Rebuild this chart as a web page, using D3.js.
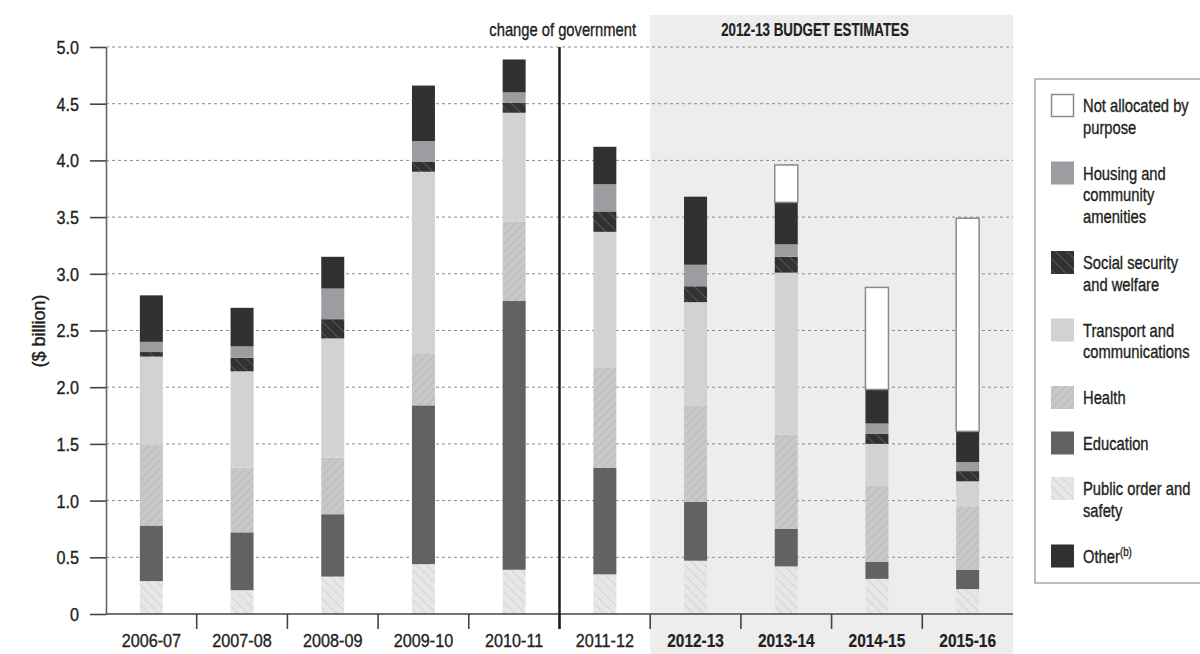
<!DOCTYPE html>
<html>
<head>
<meta charset="utf-8">
<script src="https://cdn.jsdelivr.net/npm/d3@7"></script>
<style>
  body { margin: 0; background: #fff; }
  svg text { font-family: "Liberation Sans", Arial, sans-serif; fill: #231f20; stroke: #231f20; stroke-width: 0.35px; }
  svg text.b { font-weight: bold; stroke-width: 0.2px; }
</style>
</head>
<body>
<svg id="chart" width="1200" height="654"></svg>
<script>
// years and which ones are budget estimates
const years = ["2006-07","2007-08","2008-09","2009-10","2010-11","2011-12","2012-13","2013-14","2014-15","2015-16"];
const estimateYears = ["2012-13","2013-14","2014-15","2015-16"];

// $ billion by purpose
const publicOrder    = [0.29,0.21,0.33,0.44,0.39,0.35,0.47,0.42,0.31,0.22];
const education      = [0.49,0.51,0.55,1.40,2.37,0.94,0.52,0.33,0.15,0.17];
const health         = [0.71,0.57,0.50,0.46,0.70,0.88,0.85,0.83,0.67,0.56];
const transport      = [0.78,0.85,1.05,1.60,0.96,1.20,0.91,1.43,0.37,0.22];
const socialSecurity = [0.04,0.12,0.17,0.09,0.09,0.18,0.14,0.14,0.09,0.09];
const housing        = [0.09,0.10,0.27,0.18,0.09,0.24,0.19,0.11,0.09,0.08];
const other          = [0.41,0.34,0.28,0.49,0.29,0.33,0.60,0.37,0.30,0.27];
const notAllocated   = [0,0,0,0,0,0,0,0.33,0.90,1.88];

const yTicks = [0,0.5,1,1.5,2,2.5,3,3.5,4,4.5,5];

// series bottom -> top
const series = [
  {key:"publicOrder", values:publicOrder, fill:"url(#pPublic)"},
  {key:"education", values:education, fill:"#626263"},
  {key:"health", values:health, fill:"url(#pHealth)"},
  {key:"transport", values:transport, fill:"#d1d2d4"},
  {key:"social", values:socialSecurity, fill:"url(#pSocial)"},
  {key:"housing", values:housing, fill:"#9c9da0"},
  {key:"other", values:other, fill:"#323132"},
  {key:"notAllocated", values:notAllocated, fill:"#ffffff"}
];

// legend, top -> bottom
const legendItems = [
  {key:"notAllocated", lines:["Not allocated by","purpose"]},
  {key:"housing", lines:["Housing and","community","amenities"]},
  {key:"social", lines:["Social security","and welfare"]},
  {key:"transport", lines:["Transport and","communications"]},
  {key:"health", lines:["Health"]},
  {key:"education", lines:["Education"]},
  {key:"publicOrder", lines:["Public order and","safety"]},
  {key:"other", lines:["Other"], sup:"(b)"}
];

const table = years.map((yr,i) => {
  const row = {year: yr};
  series.forEach(s => row[s.key] = s.values[i]);
  return row;
});

const svg = d3.select("#chart");
const defs = svg.append("defs");

function hatch(id, bg, line, size, angle, w) {
  const p = defs.append("pattern").attr("id", id)
    .attr("patternUnits","userSpaceOnUse")
    .attr("width", size).attr("height", size)
    .attr("patternTransform", "rotate(" + angle + ")");
  p.append("rect").attr("width", size).attr("height", size).attr("fill", bg);
  p.append("line").attr("x1",0).attr("y1",0).attr("x2",0).attr("y2",size)
    .attr("stroke", line).attr("stroke-width", w);
}
hatch("pPublic", "#e6e7e8", "#bcbdbf", 7, -45, 1);
hatch("pHealth", "#c7c8ca", "#a9aaac", 6, 45, 1);
hatch("pSocial", "#333233", "#7a7a7a", 8, -45, 1);

// narrow text: Arial metrics squeezed horizontally
function label(parent, x, y, str, size, sx, anchor, bold) {
  return parent.append("text")
    .attr("class", bold ? "b" : null)
    .attr("transform", "translate(" + x + "," + y + ") scale(" + sx + ",1)")
    .attr("font-size", size).attr("text-anchor", anchor || "start")
    .text(str);
}

const x = d3.scaleBand().domain(years).range([106,1013]);
const y = d3.scaleLinear().domain([0,5]).range([614,47]);
const barW = 23;

// shaded estimates area
svg.append("rect")
  .attr("x", x(estimateYears[0])).attr("y", 15)
  .attr("width", 1013 - x(estimateYears[0])).attr("height", 654 - 15)
  .attr("fill", "#ededed");

// gridlines
svg.append("g").selectAll("line").data(yTicks.filter(d => d > 0)).join("line")
  .attr("x1", 106).attr("x2", 1013)
  .attr("y1", d => y(d)).attr("y2", d => y(d))
  .attr("stroke", "#8a8a8a").attr("stroke-width", 1)
  .attr("stroke-dasharray", "3,3");

// bars
const stack = d3.stack().keys(series.map(s => s.key));
const layers = stack(table);
const fillOf = Object.fromEntries(series.map(s => [s.key, s.fill]));

svg.append("g").selectAll("g").data(layers).join("g")
  .attr("fill", d => fillOf[d.key])
  .attr("stroke", d => d.key === "notAllocated" ? "#8a8a8a" : "none")
  .attr("stroke-width", 1.5)
  .selectAll("rect").data(d => d.filter(v => v[1] - v[0] > 0)).join("rect")
  .attr("x", d => x(d.data.year) + (x.bandwidth() - barW) / 2)
  .attr("y", d => y(d[1]))
  .attr("width", barW)
  .attr("height", d => y(d[0]) - y(d[1]));

// y axis
const yAxis = svg.append("g").attr("transform", "translate(106,0)")
  .call(d3.axisLeft(y).tickValues(yTicks).tickSize(16).tickSizeOuter(0).tickPadding(11)
    .tickFormat(d => d === 0 ? "0" : d.toFixed(1)));
yAxis.select(".domain").attr("stroke", "#666").attr("stroke-width", 1.6);
yAxis.selectAll(".tick line").attr("stroke", "#444").attr("stroke-width", 1.6);
yAxis.selectAll(".tick text")
  .attr("font-size", 18).attr("fill", "#231f20")
  .attr("x", -27 / 0.9).attr("dy", "0.36em")
  .attr("transform", "scale(0.9,1)")
  .style("font-family", "'Liberation Sans',Arial,sans-serif");

// x axis
svg.append("line").attr("x1", 106).attr("x2", 1013).attr("y1", y(0)).attr("y2", y(0))
  .attr("stroke", "#444").attr("stroke-width", 1.6);
svg.append("g").selectAll("line").data(years.slice(1)).join("line")
  .attr("x1", d => x(d)).attr("x2", d => x(d))
  .attr("y1", y(0)).attr("y2", y(0) + 15)
  .attr("stroke", "#444").attr("stroke-width", 1.6);
const xl = svg.append("g");
years.forEach(d => {
  const bold = estimateYears.includes(d);
  label(xl, x(d) + x.bandwidth() / 2, 647, d, 18, bold ? 0.86 : 0.9, "middle", bold);
});

// y title
svg.append("text").attr("transform", "translate(45,331) rotate(-90)")
  .attr("text-anchor", "middle").attr("font-size", 18).text("($ billion)");

// change of government divider
svg.append("line").attr("x1", x("2011-12")).attr("x2", x("2011-12"))
  .attr("y1", 47).attr("y2", 629).attr("stroke", "#1e1e1e").attr("stroke-width", 2.5);
label(svg, 636, 36, "change of government", 18, 0.82, "end", false);
label(svg, 815, 36, "2012-13 BUDGET ESTIMATES", 18, 0.74, "middle", true);

// legend
const lg = svg.append("g");
lg.append("rect").attr("x", 1035).attr("y", 79).attr("width", 200).attr("height", 504)
  .attr("fill", "#fff").attr("stroke", "#a8a8a8").attr("stroke-width", 1.5);
let ly = 94;
legendItems.forEach(it => {
  const isNA = it.key === "notAllocated";
  lg.append("rect").attr("x", isNA ? 1051.5 : 1051).attr("y", isNA ? ly + 0.5 : ly)
    .attr("width", isNA ? 22 : 23).attr("height", isNA ? 22 : 23)
    .attr("fill", fillOf[it.key])
    .attr("stroke", isNA ? "#8a8a8a" : "none").attr("stroke-width", 1.5);
  const t = label(lg, 1083, ly + 18, null, 18, 0.82, "start", false);
  it.lines.forEach((ln, i) => {
    t.append("tspan").attr("x", 0).attr("dy", i === 0 ? 0 : 22).text(ln);
  });
  if (it.sup) {
    t.append("tspan").attr("font-size", 12).attr("dy", -7).text(it.sup);
  }
  ly += it.lines.length * 22 + 23.5;
});
</script>
</body>
</html>
